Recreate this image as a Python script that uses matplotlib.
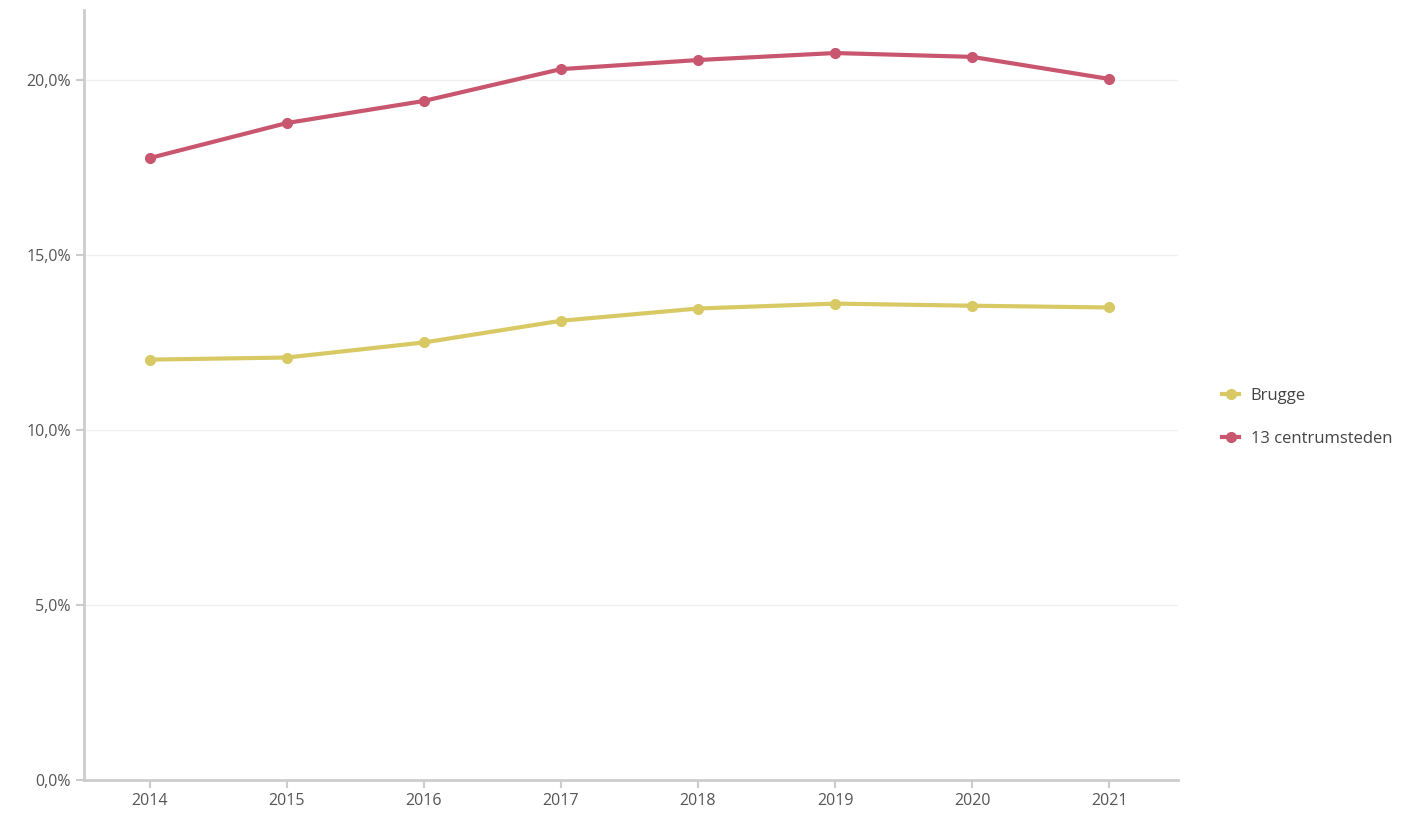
import matplotlib
matplotlib.use('Agg')
import matplotlib.pyplot as plt
from matplotlib.ticker import FuncFormatter

plt.rcParams['font.family'] = ['Open Sans', 'DejaVu Sans']

jaren = ['2014', '2015', '2016', '2017', '2018', '2019', '2020', '2021']
brugge = [12.01, 12.07, 12.50, 13.12, 13.47, 13.61, 13.55, 13.50]
centrumsteden = [17.77, 18.77, 19.40, 20.31, 20.57, 20.77, 20.66, 20.03]

fig = plt.figure(figsize=(14.12, 8.18), dpi=100)
ax = fig.add_axes([0.0595, 0.0465, 0.7745, 0.9413])

x = list(range(len(jaren)))
ax.plot(x, brugge, color='#d8c965', lw=3, marker='o', ms=7, label='Brugge')
ax.plot(x, centrumsteden, color='#c9566f', lw=3, marker='o', ms=7, label='13 centrumsteden')

ax.set_xlim(-0.48, 7.5)
ax.set_ylim(0, 22)
ax.set_xticks(x)
ax.set_xticklabels(jaren)
ax.set_yticks([0, 5, 10, 15, 20])
ax.yaxis.set_major_formatter(FuncFormatter(lambda v, p: ('%.1f%%' % v).replace('.', ',')))

for s in ['top', 'right']:
    ax.spines[s].set_visible(False)
for s in ['left', 'bottom']:
    ax.spines[s].set_color('#cccccc')
    ax.spines[s].set_linewidth(2)
ax.tick_params(colors='#cccccc', labelcolor='#555555', labelsize=11.5, length=6, width=1.5)
ax.grid(axis='y', color='#f0f0f0', lw=1)
ax.set_axisbelow(True)

fig.legend(loc='center left', bbox_to_anchor=(0.855, 0.49), frameon=False,
           fontsize=12, labelcolor='#444444', handlelength=1.0, handletextpad=0.7,
           labelspacing=1.6)

fig.savefig('out.png', dpi=100)
